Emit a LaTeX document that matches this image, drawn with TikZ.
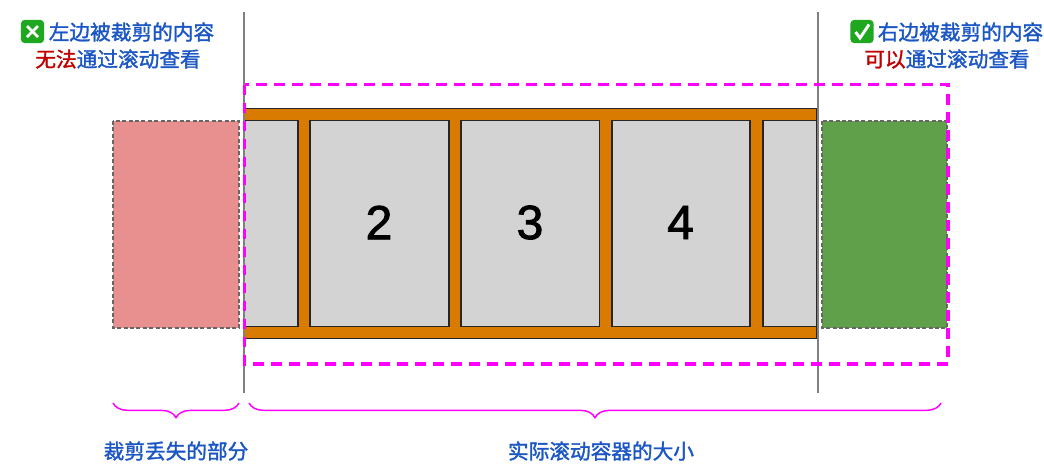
\documentclass[tikz,border=0pt]{standalone}
\usepackage{fontspec}
\newfontfamily\digitfont[FakeBold=1.9]{Liberation Sans}
\newfontfamily\cjk[FakeBold=1.5]{Noto Sans CJK SC}
\usetikzlibrary{decorations.pathreplacing}
\definecolor{labelblue}{HTML}{1A56C4}
\definecolor{labelred}{HTML}{C00000}
\definecolor{trackorange}{HTML}{D97B00}
\definecolor{itemgrey}{HTML}{D3D3D3}
\definecolor{lostred}{HTML}{E89090}
\definecolor{keptgreen}{HTML}{60A04B}
\definecolor{iconmint}{HTML}{1FA71F}
\definecolor{edgegrey}{HTML}{666666}
\definecolor{purplemark}{HTML}{FF00FF}
\tikzset{
  cliptext/.style={text=labelblue, inner sep=0pt, font=\cjk\fontsize{15.5pt}{18pt}\selectfont},
  itembox/.style={fill=itemgrey, draw=black!85, line width=0.95pt},
  hiddenbox/.style={draw=edgegrey, line width=1.4pt, dash pattern=on 3pt off 1.8pt},
  bracemark/.style={draw=purplemark, line width=1.1pt, decorate, decoration={brace, mirror, amplitude=11pt}},
}
\begin{document}
\begin{tikzpicture}[x=0.75pt, y=-0.75pt]
    \useasboundingbox (0,0) rectangle (1044,475);

    % Contenitore
    \filldraw[fill=trackorange, draw=black!85, line width=0.95pt] (244,108.5) rectangle (816.5,338.5);
    \foreach \a/\b in {244/298, 310/449, 461/599.5, 612/750, 763/816.5}
        \filldraw[itembox] (\a,120.5) rectangle (\b,326.5);
    \foreach \x/\n in {379/2, 530/3, 680.5/4}
        \node[font=\digitfont\fontsize{36pt}{36pt}\selectfont, inner sep=0pt] (item\n) at (\x,222.5) {\n};

    % Parti tagliate
    \filldraw[fill=lostred, hiddenbox] (113,121) rectangle (239,328);
    \filldraw[fill=keptgreen, hiddenbox] (822,121) rectangle (947,328);

    % Linee verticali
    \draw[draw=black!50, line width=1.5pt] (243.5,12) -- (243.5,393);
    \draw[draw=black!50, line width=1.5pt] (817.5,12) -- (817.5,393);
    \draw[purplemark, line width=2.4pt, dash pattern=on 8pt off 5.5pt] (244.5,84.5) rectangle (948,364);

    % Icone
    \node[fill=iconmint, rounded corners=3pt, minimum size=17.5pt, inner sep=0pt] (iconleft) at (32.5,31.5) {};
    \draw[white, line width=2pt] (27,26) -- (38,37) (38,26) -- (27,37);
    \node[fill=iconmint, rounded corners=3pt, minimum size=17.5pt, inner sep=0pt] (iconright) at (862,31.5) {};
    \draw[white, line width=2.2pt] (855.5,32) -- (860,38) -- (869,24.5);

    % Testi
    \node[cliptext] (leftone) at (131.5,32) {左边被裁剪的内容};
    \node[cliptext] (lefttwo) at (118,59) {{\color{labelred}无法}通过滚动查看};
    \node[cliptext] (rightone) at (960.5,32) {右边被裁剪的内容};
    \node[cliptext] (righttwo) at (947,59) {{\color{labelred}可以}通过滚动查看};

    % Graffe
    \coordinate (lostl) at (113,403);
    \coordinate (lostr) at (239,403);
    \coordinate (realtl) at (249,403);
    \coordinate (realtr) at (941,403);
    \draw[bracemark] (lostl) -- (lostr);
    \draw[bracemark] (realtl) -- (realtr);
    \node[cliptext] (lostlabel) at (176,451) {裁剪丢失的部分};
    \node[cliptext] (reallabel) at (601,451) {实际滚动容器的大小};
\end{tikzpicture}
\end{document}
